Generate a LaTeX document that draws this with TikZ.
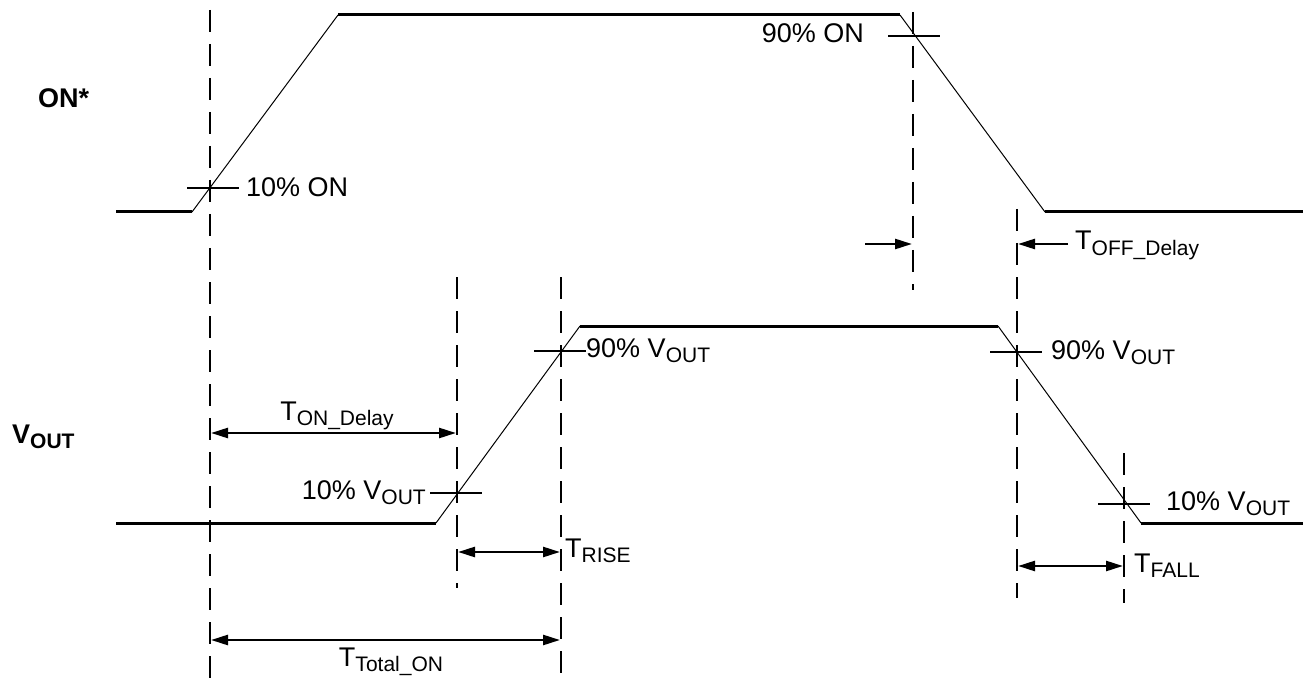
\documentclass[tikz,border=0pt]{standalone}
\usepackage{fontspec}
\setmainfont{Liberation Sans}
\usetikzlibrary{arrows.meta}
\newcommand\sub[1]{\raisebox{-0.22em}{\fontsize{21}{24}\selectfont #1}}
\tikzset{
  timing/.style={x=1pt,y=-1pt,font=\fontsize{27}{32}\selectfont},
  sig/.style={line width=3pt},
  ramp/.style={line width=1pt},
  guide/.style={line width=2pt,dash pattern=on 22pt off 12pt},
  cross/.style={line width=2pt},
  dim/.style={line width=2.5pt,{Triangle[length=17pt,width=10pt]}-{Triangle[length=17pt,width=10pt]}},
  half/.style={line width=2.5pt,-{Triangle[length=17pt,width=10pt]}},
  lbl/.style={inner sep=0pt}
}

\begin{document}
\begin{tikzpicture}[timing]
    \useasboundingbox (0,0) rectangle (1312,679);
    % ON* waveform
    \coordinate (on0) at (116,212);  \coordinate (on1) at (192,212);
    \coordinate (on2) at (338,15);   \coordinate (on3) at (900,15);
    \coordinate (on4) at (1045,212); \coordinate (on5) at (1303,212);
    \draw[sig] (on0) -- (on1);
    \draw[ramp] (on1) -- (on2);
    \draw[sig] (on2) -- (on3);
    \draw[ramp] (on3) -- (on4);
    \draw[sig] (on4) -- (on5);
    % VOUT waveform
    \coordinate (vo0) at (116,523);  \coordinate (vo1) at (436,523);
    \coordinate (vo2) at (580,326);  \coordinate (vo3) at (998,326);
    \coordinate (vo4) at (1141,523); \coordinate (vo5) at (1303,523);
    \draw[sig] (vo0) -- (vo1);
    \draw[ramp] (vo1) -- (vo2);
    \draw[sig] (vo2) -- (vo3);
    \draw[ramp] (vo3) -- (vo4);
    \draw[sig] (vo4) -- (vo5);
    % guide lines
    \foreach \x/\a/\b in {210/10/679,457/277/588,561/277/679,913/12/290,1017/209/598,1124/453/603}
      \draw[guide] (\x,\a) -- (\x,\b);
    % threshold crossings
    \foreach \x/\y in {213/188,914/36,560/351,456/493,1016/352,1124/504}
      \draw[cross] ({\x-26},\y) -- ({\x+26},\y);
    % time spans
    \coordinate (ond1) at (211,433);  \coordinate (ond2) at (456,433);
    \coordinate (ris1) at (458,552);  \coordinate (ris2) at (560,552);
    \coordinate (tot1) at (211,640);  \coordinate (tot2) at (560,640);
    \coordinate (fal1) at (1018,566); \coordinate (fal2) at (1123,566);
    \coordinate (off1) at (865,244);  \coordinate (off2) at (912,244);
    \coordinate (off3) at (1068,244); \coordinate (off4) at (1018,244);
    \draw[dim] (ond1) -- (ond2);
    \draw[dim] (ris1) -- (ris2);
    \draw[dim] (tot1) -- (tot2);
    \draw[dim] (fal1) -- (fal2);
    \draw[half] (off1) -- (off2);
    \draw[half] (off3) -- (off4);
    % labels
    \node[lbl,anchor=base west,font=\fontsize{27}{32}\selectfont\bfseries] (lon) at (38,108) {ON*};
    \node[lbl,anchor=base west,font=\fontsize{27}{32}\selectfont\bfseries] (lvout) at (12,443) {V\sub{OUT}};
    \node[lbl,anchor=base west] (p10on) at (246,197) {10\% ON};
    \node[lbl,anchor=base east] (p90on) at (864,43) {90\% ON};
    \node[lbl,anchor=base west] (toff) at (1075,250) {T\sub{OFF\_Delay}};
    \node[lbl,anchor=base west] (p90r) at (586,357) {90\% V\sub{OUT}};
    \node[lbl,anchor=base west] (p90f) at (1051,359) {90\% V\sub{OUT}};
    \node[lbl,anchor=base east] (p10r) at (426,499) {10\% V\sub{OUT}};
    \node[lbl,anchor=base west] (p10f) at (1166,510) {10\% V\sub{OUT}};
    \node[lbl,anchor=base] (ton) at (337,420) {T\sub{ON\_Delay}};
    \node[lbl,anchor=base west] (trise) at (565,557) {T\sub{RISE}};
    \node[lbl,anchor=base] (ttot) at (391,666) {T\sub{Total\_ON}};
    \node[lbl,anchor=base west] (tfall) at (1134,572) {T\sub{FALL}};
\end{tikzpicture}
\end{document}
